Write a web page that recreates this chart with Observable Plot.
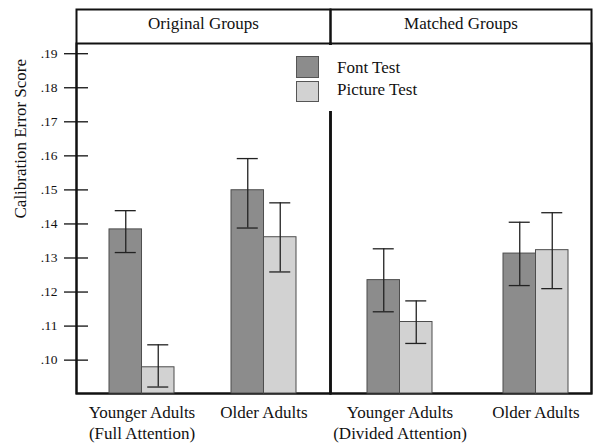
<!DOCTYPE html>
<html>
<head>
<meta charset="utf-8">
<script src="https://cdn.jsdelivr.net/npm/d3@7"></script>
<script src="https://cdn.jsdelivr.net/npm/@observablehq/plot@0.6"></script>
<style>
  html, body { margin: 0; padding: 0; background: #fff; }
  #chart { position: relative; width: 600px; height: 445px; font-family: "Liberation Serif", "Times New Roman", serif; color: #111; }
  #chart svg { position: absolute; left: 0; top: 0; }
  .legend { position: absolute; left: 288px; top: 45px; width: 150px; height: 66px; background: #fff; }
  .sw { position: absolute; left: 8px; width: 23px; height: 21.5px; box-sizing: border-box; border: 1px solid #555; }
  .lab { position: absolute; left: 49px; height: 22px; line-height: 22px; font-size: 17px; white-space: nowrap; }
</style>
</head>
<body>
<div id="chart"></div>
<script>
// ---- data ----
const panels = ["Original Groups", "Original Groups", "Matched Groups", "Matched Groups"];
const groups = ["Younger Adults\n(Full Attention)", "Older Adults", "Younger Adults\n(Divided Attention)", "Older Adults"];
const tests = ["Font Test", "Picture Test"];
const fontMean = [0.1384, 0.1499, 0.1235, 0.1313];
const fontLow = [0.1316, 0.1388, 0.1142, 0.1219];
const fontHigh = [0.1439, 0.1592, 0.1327, 0.1405];
const pictureMean = [0.0979, 0.1361, 0.1112, 0.1323];
const pictureLow = [0.0921, 0.1259, 0.1049, 0.1210];
const pictureHigh = [0.1045, 0.1462, 0.1174, 0.1433];
const yTicks = [0.10, 0.11, 0.12, 0.13, 0.14, 0.15, 0.16, 0.17, 0.18, 0.19];
const yDomain = [0.0902, 0.1930];
const colors = ["#8c8c8c", "#d2d2d2"];

const rows = [];
groups.forEach((g, i) => {
  rows.push({panel: panels[i], group: g, test: tests[0], mean: fontMean[i], low: fontLow[i], high: fontHigh[i]});
  rows.push({panel: panels[i], group: g, test: tests[1], mean: pictureMean[i], low: pictureLow[i], high: pictureHigh[i]});
});

const W = 600, H = 445, MT = 43, MB = 52;
const fmt = d => d3.format(".2f")(d).replace(/^0/, "");
const ink = "#111";

function panelPlot({panel, marginLeft, marginRight, paddingInner, paddingOuter, align, yAxis}) {
  const data = rows.filter(d => d.panel === panel);
  const font = data.filter(d => d.test === tests[0]);
  const pic = data.filter(d => d.test === tests[1]);
  const n = new Set(data.map(d => d.group)).size;
  const plotW = W - marginLeft - marginRight;
  const step = plotW / (n - paddingInner + 2 * paddingOuter);
  const bw = step * (1 - paddingInner);
  const cap = 10.5;
  const marks = [
    Plot.frame({insetTop: -34, stroke: ink, strokeWidth: 2}),
    Plot.frame({stroke: ink, strokeWidth: 2}),
    Plot.text([panel], {frameAnchor: "top", dy: -20, lineAnchor: "middle", fontSize: 17, fill: ink}),
    Plot.barY(font, {x: "group", y1: yDomain[0], y2: "mean", insetRight: bw / 2, fill: colors[0], stroke: "#4d4d4d", strokeWidth: 1}),
    Plot.barY(pic, {x: "group", y1: yDomain[0], y2: "mean", insetLeft: bw / 2, fill: colors[1], stroke: "#4d4d4d", strokeWidth: 1}),
    Plot.ruleX(font, {x: "group", y1: "low", y2: "high", dx: -bw / 4, stroke: "#222", strokeWidth: 1.3}),
    Plot.ruleX(pic, {x: "group", y1: "low", y2: "high", dx: bw / 4, stroke: "#222", strokeWidth: 1.3}),
    Plot.tickY(font, {x: "group", y: "high", insetLeft: bw / 4 - cap, insetRight: 3 * bw / 4 - cap, stroke: "#222", strokeWidth: 1.3}),
    Plot.tickY(font, {x: "group", y: "low", insetLeft: bw / 4 - cap, insetRight: 3 * bw / 4 - cap, stroke: "#222", strokeWidth: 1.3}),
    Plot.tickY(pic, {x: "group", y: "high", insetLeft: 3 * bw / 4 - cap, insetRight: bw / 4 - cap, stroke: "#222", strokeWidth: 1.3}),
    Plot.tickY(pic, {x: "group", y: "low", insetLeft: 3 * bw / 4 - cap, insetRight: bw / 4 - cap, stroke: "#222", strokeWidth: 1.3}),
    Plot.axisX({tickSize: 0, tickPadding: 9, fontSize: 17, lineHeight: 1.25, label: null, fill: ink})
  ];
  if (yAxis) {
    marks.push(
      Plot.tickY(yTicks, {y: d => d, insetRight: plotW - 24, dx: -12, stroke: ink, strokeWidth: 1.3}),
      Plot.axisY(yTicks, {tickSize: 0, tickPadding: 19, tickFormat: fmt, fontSize: 13.5, label: null, fill: ink}),
      Plot.text(["Calibration Error Score"], {frameAnchor: "left", rotate: -90, dx: -56, fontSize: 17, fill: ink})
    );
  }
  return Plot.plot({
    width: W, height: H,
    marginLeft, marginRight, marginTop: MT, marginBottom: MB,
    style: {fontFamily: "Liberation Serif, Times New Roman, serif", fontSize: "17px", background: "transparent", overflow: "visible", color: ink},
    x: {type: "band", domain: [...new Set(data.map(d => d.group))], paddingInner, paddingOuter, align, axis: null},
    y: {domain: yDomain, axis: null, label: null},
    marks
  });
}

const chart = document.getElementById("chart");
chart.appendChild(panelPlot({panel: "Original Groups", marginLeft: 76, marginRight: 270, paddingInner: 0.47, paddingOuter: 0.271, align: 0.485, yAxis: true}));
chart.appendChild(panelPlot({panel: "Matched Groups", marginLeft: 330, marginRight: 9, paddingInner: 0.5245, paddingOuter: 0.2168, align: 0.616, yAxis: false}));

// legend (white box, drawn over the panel divider as in the original)
const legend = document.createElement("div");
legend.className = "legend";
tests.forEach((t, i) => {
  const sw = document.createElement("div");
  sw.className = "sw";
  sw.style.top = (11 + i * 24.7) + "px";
  sw.style.background = colors[i];
  legend.appendChild(sw);
  const lab = document.createElement("div");
  lab.className = "lab";
  lab.style.top = (12.3 + i * 21.7) + "px";
  lab.textContent = t;
  legend.appendChild(lab);
});
chart.appendChild(legend);
</script>
</body>
</html>
